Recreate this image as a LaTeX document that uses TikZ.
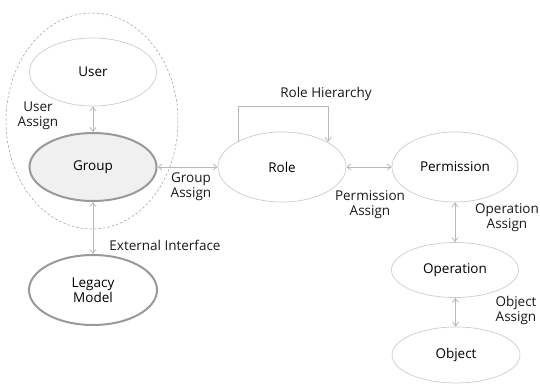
\documentclass[tikz,border=0pt]{standalone}
\usepackage{fontspec}
\setmainfont{Open Sans}
\usetikzlibrary{arrows.meta,shapes.geometric}
\begin{document}
\begin{tikzpicture}[x=1pt,y=-1pt,
  font=\fontsize{13.5}{15}\selectfont,
  ell/.style={draw=black!20,line width=0.7pt,ellipse,inner sep=0pt},
  thickell/.style={draw=black!40,line width=2pt,ellipse,inner sep=0pt},
  conn/.style={draw=black!28,line width=0.8pt,{Straight Barb[length=4pt,width=6pt]}-{Straight Barb[length=4pt,width=6pt]}},
  lbl/.style={align=center,inner sep=0pt,text=black!90}]
\useasboundingbox (0,0) rectangle (540,385);
\draw[black!40,line width=0.5pt,dash pattern=on 2.5pt off 2pt] (92,121) ellipse [x radius=86,y radius=108];
\node[ell,minimum width=127,minimum height=68] (user) at (93,72) {User};
\node[thickell,fill=black!6,minimum width=127,minimum height=68] (group) at (93,167) {Group};
\node[thickell,minimum width=128,minimum height=70,align=center,font=\fontsize{13.5}{15}\selectfont] (legacy) at (93,290) {Legacy\\Model};
\node[ell,minimum width=128,minimum height=70] (role) at (282,167) {Role};
\node[ell,minimum width=126,minimum height=70] (perm) at (455,167) {Permission};
\node[ell,minimum width=127,minimum height=55] (oper) at (455,270) {Operation};
\node[ell,minimum width=128,minimum height=56] (obj) at (456,355) {Object};
\draw[conn] (user) -- (group);
\draw[conn] (group) -- (legacy);
\draw[conn] (group) -- (role);
\draw[conn] (role) -- (perm);
\draw[conn] (perm) -- (oper);
\draw[conn] (oper) -- (obj);
\coordinate (h0) at (238,142);
\coordinate (h1) at (238,106);
\coordinate (h2) at (328,106);
\coordinate (h3) at (328,142);
\draw[draw=black!28,line width=0.8pt,-{Straight Barb[length=4pt,width=6pt]}] (h0) -- (h1) -- (h2) -- (h3);
\node[lbl] (uassign) at (38,116) {User\\Assign};
\node[lbl] (gassign) at (191,187) {Group\\Assign};
\node[lbl] (ext) at (165,245) {External Interface};
\node[lbl] (rh) at (326,94) {Role Hierarchy};
\node[lbl] (passign) at (370,205) {Permission\\Assign};
\node[lbl] (oassign) at (507,218) {Operation\\Assign};
\node[lbl] (objassign) at (516,310) {Object\\Assign};
\end{tikzpicture}
\end{document}
